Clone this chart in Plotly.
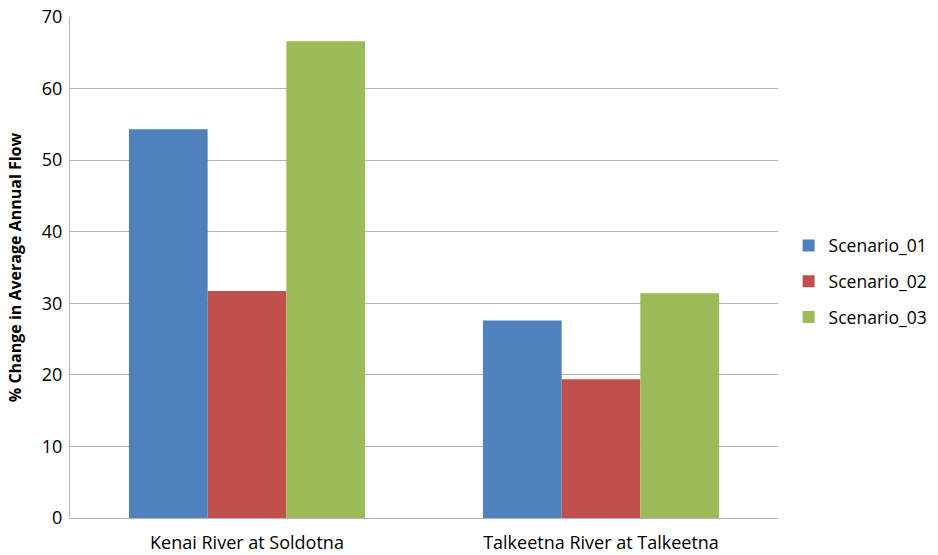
import plotly.graph_objects as go

categories = ["Kenai River at Soldotna", "Talkeetna River at Talkeetna"]
series_names = ["Scenario_01", "Scenario_02", "Scenario_03"]
scenario_01 = [54.3, 27.6]
scenario_02 = [31.7, 19.4]
scenario_03 = [66.6, 31.4]
colors = ["#4F81BD", "#C0504D", "#9BBB59"]
y_ticks = [0, 10, 20, 30, 40, 50, 60, 70]

FONT = "Open Sans"
fig = go.Figure()
for name, vals, col in zip(series_names, [scenario_01, scenario_02, scenario_03], colors):
    fig.add_trace(go.Bar(
        x=categories, y=vals, name=name, legendgroup=name,
        marker=dict(color=col, line=dict(width=0)),
    ))

grid = "#B4B4B4"
fig.update_layout(
    width=938, height=555,
    margin=dict(l=70, r=160, t=17, b=37, pad=0, autoexpand=False),
    paper_bgcolor="white", plot_bgcolor="white",
    barmode="group", bargap=0.333, bargroupgap=0,
    font=dict(family=FONT, size=18, color="#000000"),
    legend=dict(
        x=1.015, xanchor="left", y=0.472, yanchor="middle",
        font=dict(family=FONT, size=17.5, color="#000000"),
        tracegroupgap=10, traceorder="grouped",
        bgcolor="rgba(0,0,0,0)",
    ),
    xaxis=dict(
        showline=True, linecolor=grid, linewidth=1,
        ticks="", showgrid=False, automargin=False,
        ticklabelstandoff=8,
        tickfont=dict(family=FONT, size=18, color="#000000"),
    ),
    yaxis=dict(
        range=[0, 70], tickvals=y_ticks, automargin=False,
        showline=True, linecolor=grid, linewidth=1,
        showgrid=True, gridcolor=grid, gridwidth=1,
        ticks="", ticklabelstandoff=3,
        zeroline=False,
        tickfont=dict(family=FONT, size=18, color="#000000"),
        title=dict(text="<b>% Change in Average Annual Flow</b>",
                   font=dict(family=FONT, size=16, color="#000000"),
                   standoff=16),
    ),
)
fig.write_html("out.html")
